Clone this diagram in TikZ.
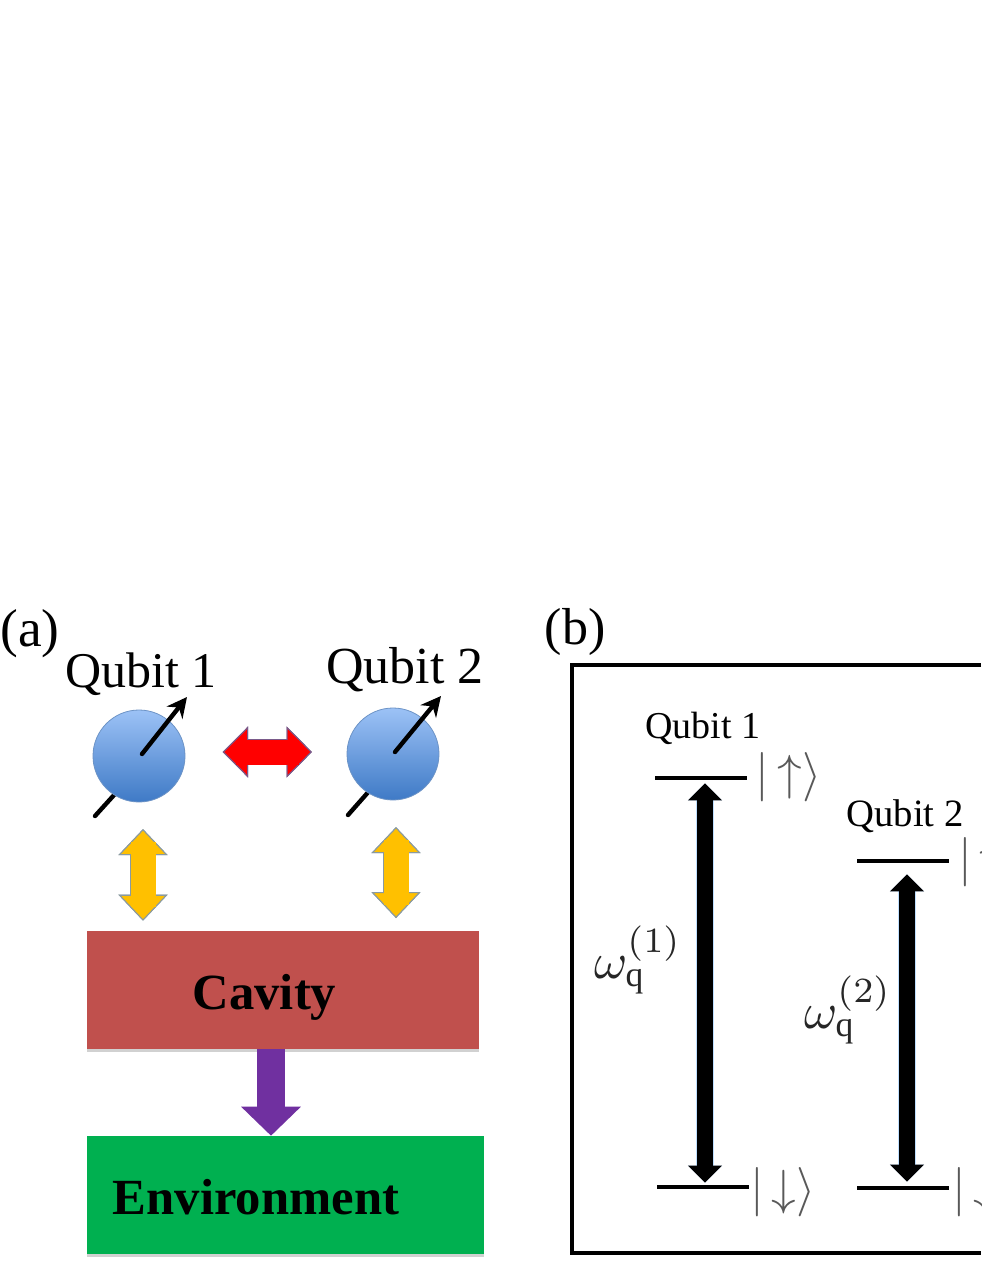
\documentclass[tikz,border=0pt]{standalone}
\usepackage{fontspec}
\setmainfont{Liberation Serif}
\usetikzlibrary{arrows.meta,shadows,calc}
\definecolor{ballTop}{HTML}{9CC2F6}
\definecolor{ballBottom}{HTML}{3F7AC6}
\definecolor{ballEdge}{HTML}{6C93C6}
\definecolor{cavityRed}{HTML}{C0504D}
\definecolor{envGreen}{HTML}{00B050}
\definecolor{leakPurple}{HTML}{7030A0}
\definecolor{couplingYellow}{HTML}{FFC000}
\definecolor{yellowEdge}{HTML}{8A9AA0}
\definecolor{redEdge}{HTML}{7A5A8A}
\tikzset{
  x=0.75pt, y=-0.75pt,
  softshadow/.style={drop shadow={shadow xshift=0pt,shadow yshift=-2pt,opacity=.18,fill=black}},
  ball/.style={circle,inner sep=0pt,minimum size=69pt,top color=ballTop,bottom color=ballBottom,draw=ballEdge,line width=.6pt},
  spin/.style={line width=3.3pt,black,line cap=round},
  spinhead/.style={spin,-{Stealth[length=15pt,width=15pt,inset=5pt]}},
  blockbox/.style={rectangle,inner sep=0pt,softshadow},
  panel/.style={line width=2.6pt,black,line join=miter},
  level/.style={rectangle,fill=black,inner sep=0pt,minimum width=69pt,minimum height=3.2pt},
  boldtitle/.style={inner sep=0pt,font=\fontsize{38}{42}\selectfont\bfseries},
  ket/.style={inner sep=0pt,anchor=west,scale=3.7,text=black!65},
  freq/.style={inner sep=0pt,scale=3.8,text=black!85},
  yellowpair/.style={
    preaction={draw=yellowEdge,line width=20.2pt},
    draw=couplingYellow,line width=18.75pt,
    {Triangle[length=19.5pt,width=36.75pt,color=yellowEdge,fill=couplingYellow,line width=.8pt]}-{Triangle[length=19.5pt,width=36.75pt,color=yellowEdge,fill=couplingYellow,line width=.8pt]}},
  redpair/.style={
    preaction={draw=redEdge,line width=20.2pt},
    draw=red,line width=18.75pt,
    {Triangle[length=19pt,width=38.25pt,color=redEdge,fill=red,line width=.8pt]}-{Triangle[length=19pt,width=38.25pt,color=redEdge,fill=red,line width=.8pt]}},
  seam/.style={line width=18.75pt,arrows=-},
  transition/.style={
    preaction={draw=blue!50!cyan!25,line width=13.4pt},
    draw=black,line width=11.6pt,
    {Triangle[length=12.75pt,width=24.75pt]}-{Triangle[length=12.75pt,width=24.75pt]}},
  leak/.style={draw=leakPurple,line width=21pt,-{Triangle[length=21.75pt,width=43.5pt]}},
}
\begin{document}
\begin{tikzpicture}
\useasboundingbox (0,0) rectangle (981,1269);
\fill[white] (0,0) rectangle (981,1269);

% Spins: the lower stubs pass behind the balls
\coordinate (tailA) at (95,816);
\coordinate (hubA) at (124,784);
\coordinate (tailB) at (348,815);
\coordinate (hubB) at (378,781);
\draw[spin] (tailA) -- (hubA);
\draw[spin] (tailB) -- (hubB);

\node[ball] (qubitA) at (139,756) {};
\node[ball] (qubitB) at (393,754) {};

\coordinate (spinStartA) at (142,754);
\coordinate (spinEndA) at (187,697);
\coordinate (spinStartB) at (395,752);
\coordinate (spinEndB) at (441,696);
\draw[spinhead] (spinStartA) -- (spinEndA);
\draw[spinhead] (spinStartB) -- (spinEndB);

% Boxes of panel (a)
\node[blockbox,fill=cavityRed,minimum width=294pt,minimum height=88.5pt] (cavity) at (283,990) {};
\node[blockbox,fill=envGreen,minimum width=297.75pt,minimum height=88.5pt] (env) at (285.5,1195) {};
\node[boldtitle] (cavityText) at (264.5,997) {Cavity};
\node[boldtitle] (envText) at (256,1197) {Environment};

% Block arrows of panel (a); the seam pass hides the join of shaft and heads
\coordinate (redRow) at (0,752);
\coordinate (yellowA) at (143,0);
\coordinate (yellowB) at (396,0);
\coordinate (leakCol) at (271,0);
\draw[redpair,shorten <=28pt,shorten >=26pt,
      postaction={draw=red,seam,shorten <=38pt,shorten >=36pt}]
  (qubitA.east |- redRow) -- (qubitB.west |- redRow);
\draw[yellowpair,shorten <=20pt,shorten >=7.5pt,
      postaction={draw=couplingYellow,seam,shorten <=30pt,shorten >=17.5pt}]
  (qubitA.south -| yellowA) -- (cavity.north -| yellowA);
\draw[yellowpair,shorten <=20pt,shorten >=9.5pt,
      postaction={draw=couplingYellow,seam,shorten <=30pt,shorten >=19.5pt}]
  (qubitB.south -| yellowB) -- (cavity.north -| yellowB);
\draw[leak] (cavity.south -| leakCol) -- (env.north -| leakCol);

% Labels of panel (a)
\node[inner sep=0pt,font=\fontsize{40}{44}\selectfont] (labelA) at (30,634) {(a)};
\node[inner sep=0pt,font=\fontsize{37.5}{42}\selectfont] (titleA) at (141,674) {Qubit 1};
\node[inner sep=0pt,font=\fontsize{39}{43}\selectfont] (titleB) at (405,670) {Qubit 2};

% Panel (b), open on its right side where the page ends
\node[inner sep=0pt,font=\fontsize{39}{43}\selectfont] (labelB) at (575,632) {(b)};
\coordinate (frameTR) at (981,665);
\coordinate (frameTL) at (572,665);
\coordinate (frameBL) at (572,1253);
\coordinate (frameBR) at (981,1253);
\draw[panel] (frameTR) -- (frameTL) -- (frameBL) -- (frameBR);

\node[inner sep=0pt,font=\fontsize{28.5}{32}\selectfont] (titleC) at (703,728) {Qubit 1};
\node[inner sep=0pt,font=\fontsize{29}{32}\selectfont] (titleD) at (905,816) {Qubit 2};

\node[level] (upA) at (701,778) {};
\node[level] (downA) at (702.5,1187) {};
\node[level] (upB) at (903,861) {};
\node[level] (downB) at (903,1188) {};

\coordinate (colA) at (705,0);
\coordinate (colB) at (907,0);
\draw[transition,shorten <=2.25pt,shorten >=1.5pt] (upA.south -| colA) -- (downA.north -| colA);
\draw[transition,shorten <=8.25pt,shorten >=3pt] (upB.south -| colB) -- (downB.north -| colB);

\node[freq] (omegaA) at (638,960) {$\omega_{\mathrm{q}}^{(1)}$};
\node[freq] (omegaB) at (848,1010) {$\omega_{\mathrm{q}}^{(2)}$};

\begin{scope}
  \clip (0,0) rectangle (981,1269);
  \node[ket] (ketUpA) at (755,777) {$|\,{\uparrow}\rangle$};
  \node[ket] (ketDownA) at (749,1192) {$|\,{\downarrow}\rangle$};
  \node[ket] (ketUpB) at (957,862) {$|\,{\uparrow}\rangle$};
  \node[ket] (ketDownB) at (951,1192) {$|\,{\downarrow}\rangle$};
\end{scope}
\end{tikzpicture}
\end{document}
